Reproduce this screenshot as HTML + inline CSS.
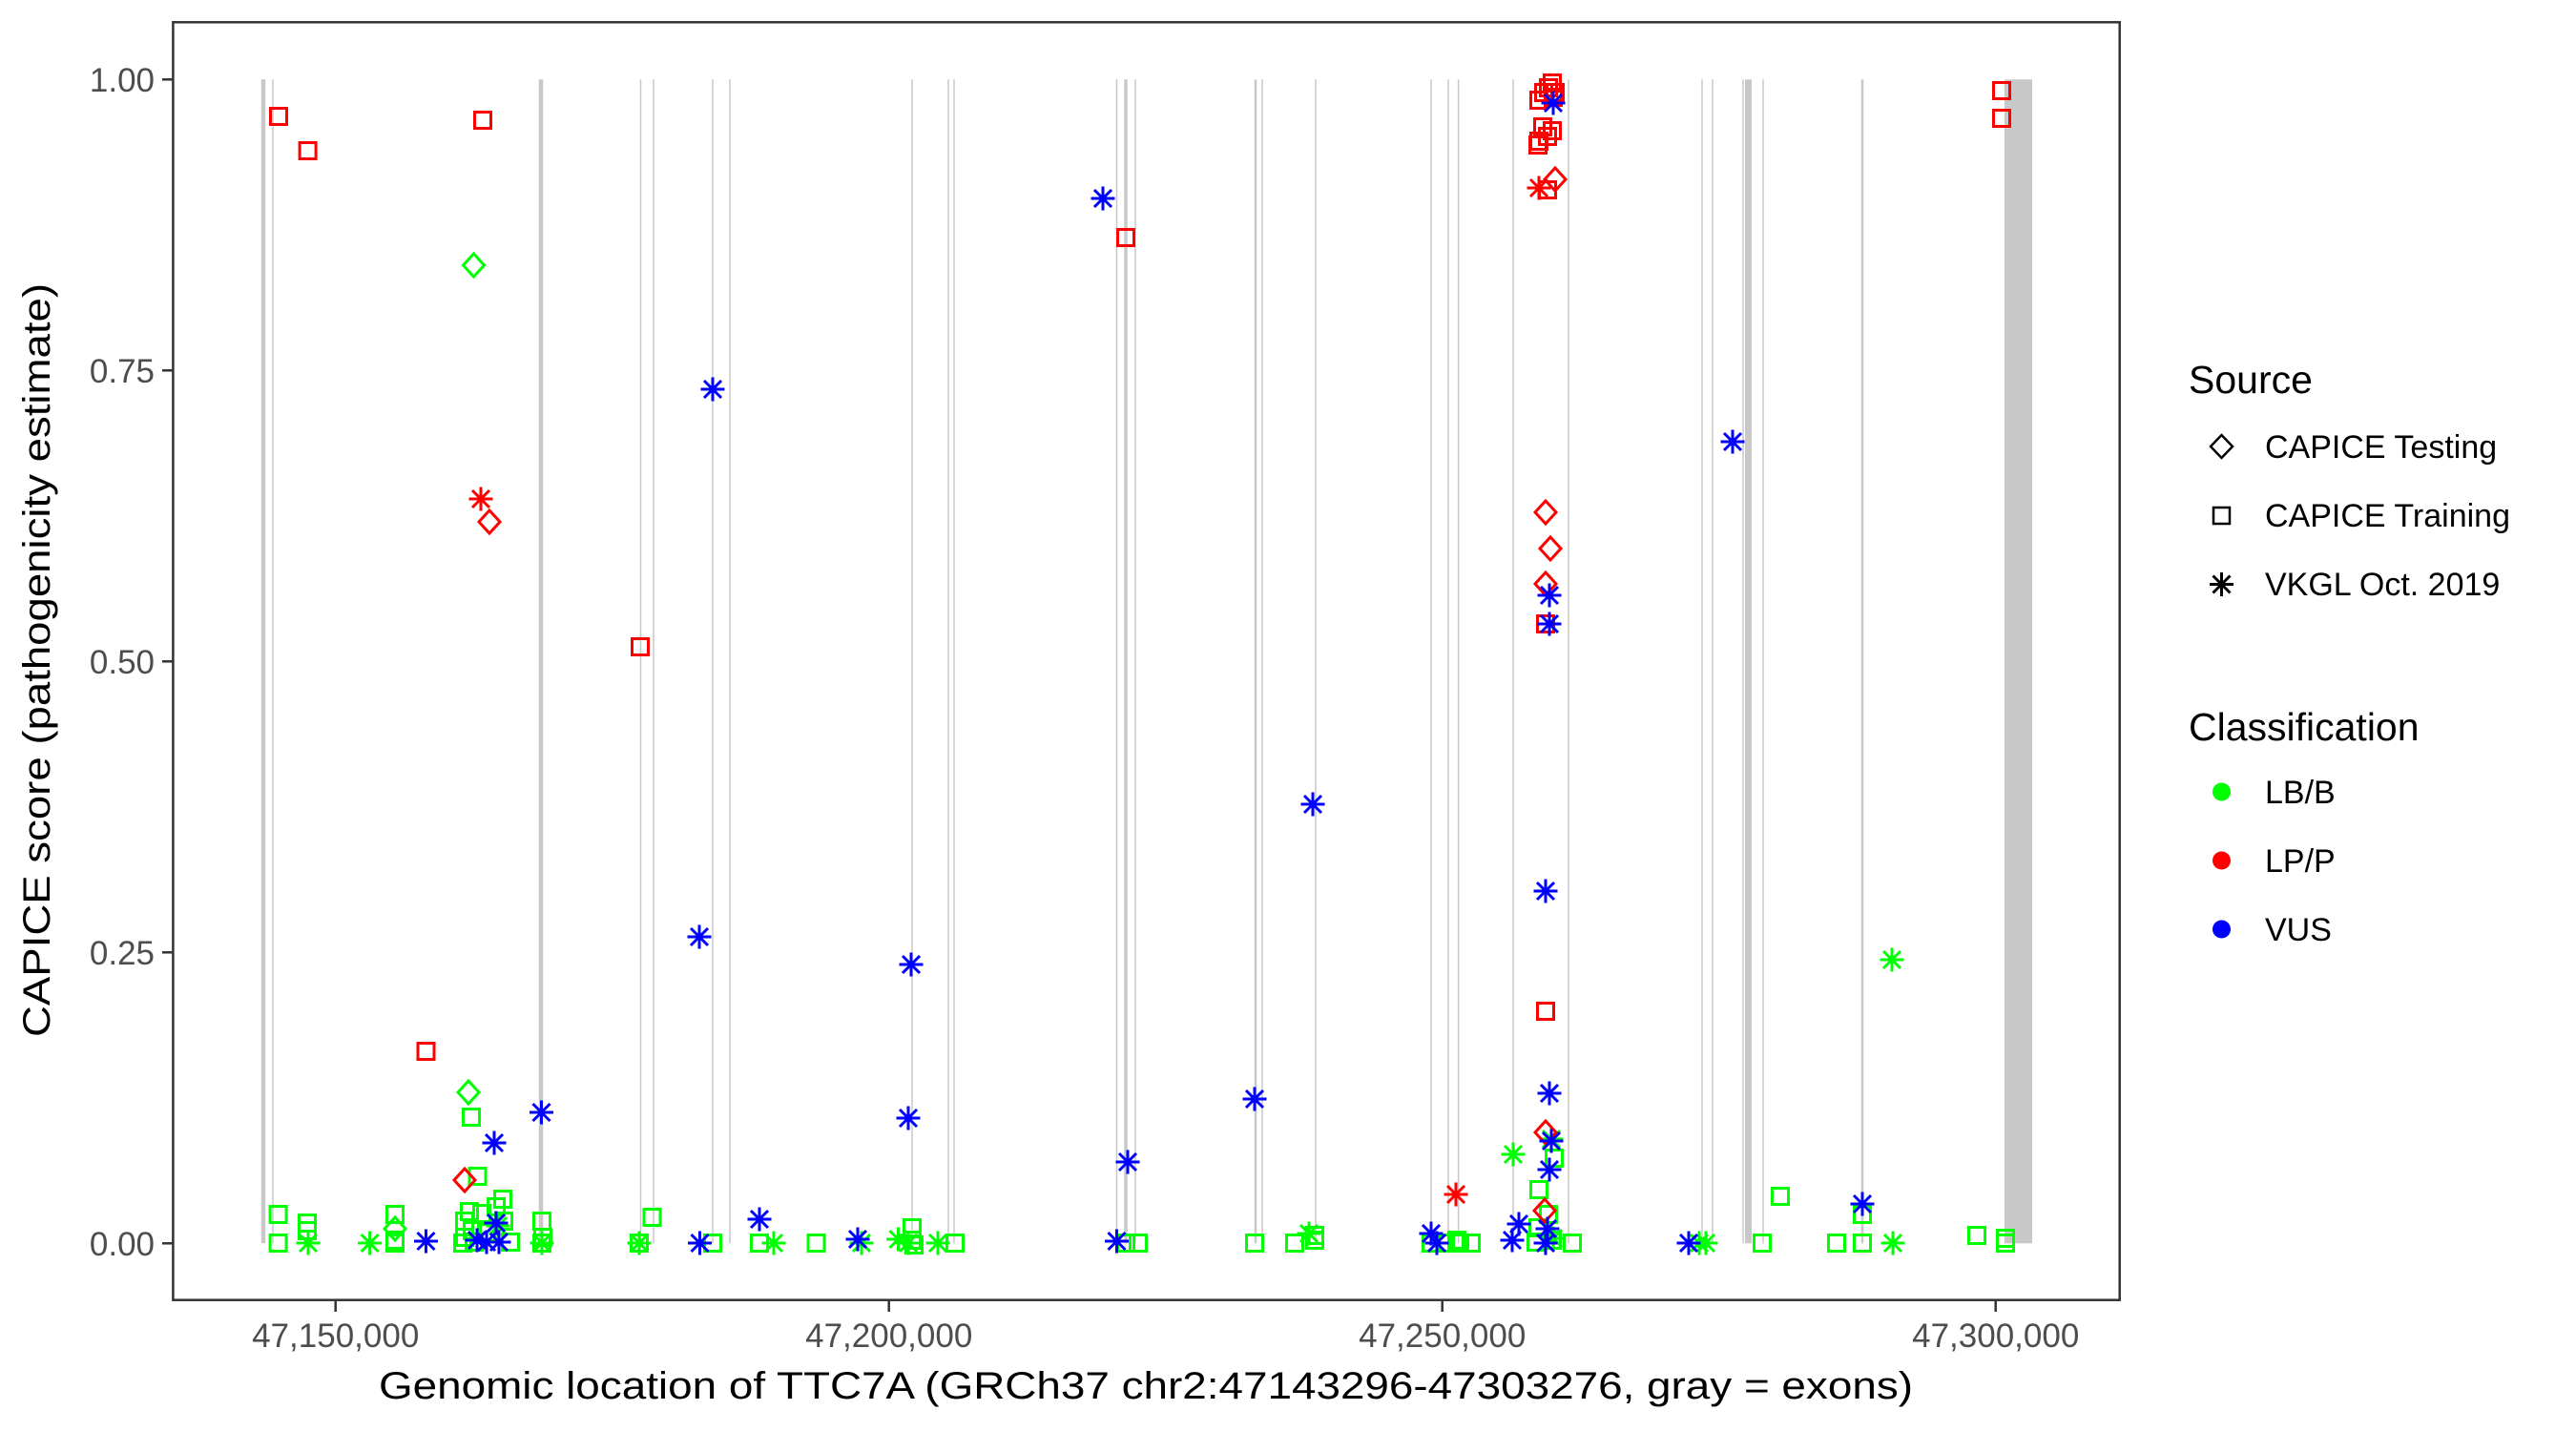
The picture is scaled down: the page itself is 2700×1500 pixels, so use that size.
<!DOCTYPE html>
<html><head><meta charset="utf-8"><style>
html,body{margin:0;padding:0;background:#fff}
svg{display:block}
text{font-family:"Liberation Sans",Arial,sans-serif}
</style></head><body>
<svg width="2700" height="1500" viewBox="0 0 2700 1500" xmlns="http://www.w3.org/2000/svg">
<defs>
<path id="S" d="M-8.5,-8.5h17v17h-17z" fill="none" stroke-width="3"/>
<path id="D" d="M0,-12L11,0L0,12L-11,0Z" fill="none" stroke-width="3"/>
<path id="A" d="M0,-12.5V12.5M-12.5,0H12.5M-9,-9L9,9M-9,9L9,-9" fill="none" stroke-width="3"/>
</defs>
<rect width="2700" height="1500" fill="#fff"/>
<g stroke="#c8c8c8" fill="none">
<line x1="276" y1="83.3" x2="276" y2="1303.3" stroke-width="4.5"/>
<line x1="286" y1="83.3" x2="286" y2="1303.3" stroke-width="1.5"/>
<line x1="567" y1="83.3" x2="567" y2="1303.3" stroke-width="4.5"/>
<line x1="671.5" y1="83.3" x2="671.5" y2="1303.3" stroke-width="1.5"/>
<line x1="685" y1="83.3" x2="685" y2="1303.3" stroke-width="1.5"/>
<line x1="747" y1="83.3" x2="747" y2="1303.3" stroke-width="1.5"/>
<line x1="765" y1="83.3" x2="765" y2="1303.3" stroke-width="1.5"/>
<line x1="956" y1="83.3" x2="956" y2="1303.3" stroke-width="1.5"/>
<line x1="994" y1="83.3" x2="994" y2="1303.3" stroke-width="1.5"/>
<line x1="1000" y1="83.3" x2="1000" y2="1303.3" stroke-width="1.5"/>
<line x1="1170.5" y1="83.3" x2="1170.5" y2="1303.3" stroke-width="1.5"/>
<line x1="1180" y1="83.3" x2="1180" y2="1303.3" stroke-width="3.5"/>
<line x1="1190" y1="83.3" x2="1190" y2="1303.3" stroke-width="1.5"/>
<line x1="1316" y1="83.3" x2="1316" y2="1303.3" stroke-width="2.5"/>
<line x1="1323" y1="83.3" x2="1323" y2="1303.3" stroke-width="1.5"/>
<line x1="1379" y1="83.3" x2="1379" y2="1303.3" stroke-width="1.5"/>
<line x1="1500" y1="83.3" x2="1500" y2="1303.3" stroke-width="1.5"/>
<line x1="1518" y1="83.3" x2="1518" y2="1303.3" stroke-width="1.5"/>
<line x1="1528.6" y1="83.3" x2="1528.6" y2="1303.3" stroke-width="1.5"/>
<line x1="1586" y1="83.3" x2="1586" y2="1303.3" stroke-width="1.5"/>
<line x1="1644" y1="83.3" x2="1644" y2="1303.3" stroke-width="1.5"/>
<line x1="1784" y1="83.3" x2="1784" y2="1303.3" stroke-width="1.5"/>
<line x1="1795" y1="83.3" x2="1795" y2="1303.3" stroke-width="1.5"/>
<line x1="1827" y1="83.3" x2="1827" y2="1303.3" stroke-width="1.5"/>
<line x1="1848" y1="83.3" x2="1848" y2="1303.3" stroke-width="1.5"/>
<line x1="1952" y1="83.3" x2="1952" y2="1303.3" stroke-width="2.5"/>
</g>
<rect x="1829" y="83.3" width="7" height="1220" fill="#c8c8c8"/>
<rect x="2101" y="83.3" width="29" height="1220" fill="#c8c8c8"/>
<g stroke="#00ff00">
<use href="#S" x="291.6" y="1303"/><use href="#S" x="414" y="1303"/><use href="#S" x="485" y="1303"/><use href="#S" x="487" y="1297"/><use href="#S" x="497" y="1302"/><use href="#S" x="535" y="1302"/><use href="#S" x="568" y="1303"/><use href="#S" x="569" y="1297"/><use href="#S" x="670" y="1303"/><use href="#S" x="747" y="1303"/><use href="#S" x="796" y="1303"/><use href="#S" x="855.5" y="1303"/><use href="#S" x="956" y="1300"/><use href="#S" x="958" y="1305"/><use href="#S" x="1001" y="1303"/><use href="#S" x="1180" y="1303"/><use href="#S" x="1193" y="1303"/><use href="#S" x="1315" y="1303"/><use href="#S" x="1357" y="1303"/><use href="#S" x="1378" y="1300"/><use href="#S" x="1500" y="1303"/><use href="#S" x="1515" y="1303"/><use href="#S" x="1530" y="1303"/><use href="#S" x="1542" y="1303"/><use href="#S" x="1527" y="1300"/><use href="#S" x="1610" y="1302"/><use href="#S" x="1627" y="1300"/><use href="#S" x="1648" y="1303"/><use href="#S" x="1847" y="1303"/><use href="#S" x="1925" y="1303"/><use href="#S" x="1952" y="1303"/><use href="#S" x="2102" y="1303"/><use href="#S" x="2102" y="1298"/>
<use href="#S" x="291.6" y="1273"/><use href="#S" x="322" y="1282"/><use href="#S" x="322" y="1290"/><use href="#S" x="414" y="1273"/><use href="#S" x="414" y="1300"/><use href="#S" x="494" y="1171"/><use href="#S" x="500.5" y="1233"/><use href="#S" x="527" y="1257"/><use href="#S" x="520" y="1265"/><use href="#S" x="492" y="1270"/><use href="#S" x="487" y="1280"/><use href="#S" x="505" y="1272"/><use href="#S" x="528" y="1280"/><use href="#S" x="568" y="1280"/><use href="#S" x="683.5" y="1276"/><use href="#S" x="956" y="1287"/><use href="#S" x="1629" y="1214"/><use href="#S" x="1613" y="1247"/><use href="#S" x="1623" y="1273"/><use href="#S" x="1612" y="1287"/><use href="#S" x="1866" y="1254"/><use href="#S" x="1952" y="1273"/><use href="#S" x="2072" y="1295"/><use href="#S" x="1378" y="1295"/><use href="#S" x="495" y="1290"/><use href="#S" x="510" y="1292"/>
<use href="#A" x="323" y="1303"/><use href="#A" x="387.6" y="1303"/><use href="#A" x="568" y="1303"/><use href="#A" x="670" y="1303"/><use href="#A" x="811" y="1303"/><use href="#A" x="903" y="1303"/><use href="#A" x="941.5" y="1299"/><use href="#A" x="952" y="1303"/><use href="#A" x="983" y="1303"/><use href="#A" x="1372" y="1293"/><use href="#A" x="1628" y="1298"/><use href="#A" x="1781" y="1303"/><use href="#A" x="1788" y="1303"/><use href="#A" x="1984" y="1303"/><use href="#A" x="1586" y="1210"/><use href="#A" x="1626" y="1194"/><use href="#A" x="1983" y="1006"/><use href="#A" x="522" y="1285"/>
<use href="#D" x="496.5" y="278"/><use href="#D" x="491" y="1145"/><use href="#D" x="414" y="1288"/>
</g>
<g stroke="#ff0000">
<use href="#S" x="292" y="122"/><use href="#S" x="322.6" y="158"/><use href="#S" x="506" y="126"/><use href="#S" x="446.5" y="1102"/><use href="#S" x="671" y="678"/><use href="#S" x="1180" y="249"/>
<use href="#S" x="1627" y="87"/><use href="#S" x="1623" y="92"/><use href="#S" x="1618" y="97"/><use href="#S" x="1613" y="105"/><use href="#S" x="1630" y="97"/><use href="#S" x="1628" y="102"/><use href="#S" x="1617" y="133"/><use href="#S" x="1627" y="137"/><use href="#S" x="1613" y="148"/><use href="#S" x="1612" y="152"/><use href="#S" x="1622" y="143"/>
<use href="#S" x="1622" y="199"/><use href="#S" x="1620" y="654"/><use href="#S" x="1620" y="1060"/><use href="#S" x="2098" y="95"/><use href="#S" x="2098" y="124"/>
<use href="#D" x="513" y="547"/><use href="#D" x="487" y="1237"/><use href="#D" x="1630" y="188"/><use href="#D" x="1620" y="537"/><use href="#D" x="1625" y="575"/><use href="#D" x="1620" y="612"/><use href="#D" x="1620" y="1187"/><use href="#D" x="1619" y="1269"/>
<use href="#A" x="504" y="523"/><use href="#A" x="1613" y="197"/><use href="#A" x="1526" y="1252"/>
</g>
<g stroke="#0000ff">
<use href="#A" x="747" y="408"/><use href="#A" x="733" y="982"/><use href="#A" x="1156" y="208"/><use href="#A" x="1816" y="463"/><use href="#A" x="1376" y="843"/><use href="#A" x="955" y="1011"/><use href="#A" x="952" y="1172"/><use href="#A" x="1628" y="108"/><use href="#A" x="1624" y="624"/><use href="#A" x="1624" y="654"/><use href="#A" x="1620" y="934"/><use href="#A" x="1624" y="1146"/><use href="#A" x="1626" y="1196"/><use href="#A" x="1624" y="1226"/><use href="#A" x="1315" y="1152"/><use href="#A" x="1182" y="1218"/><use href="#A" x="567.5" y="1166"/><use href="#A" x="518" y="1198"/><use href="#A" x="796" y="1278"/><use href="#A" x="1952" y="1262"/><use href="#A" x="446.5" y="1301"/><use href="#A" x="733.5" y="1303"/><use href="#A" x="899" y="1299"/><use href="#A" x="1170.5" y="1301"/><use href="#A" x="1500" y="1293"/><use href="#A" x="1506" y="1303"/><use href="#A" x="1592" y="1283"/><use href="#A" x="1585" y="1300"/><use href="#A" x="1622" y="1288"/><use href="#A" x="1620" y="1303"/><use href="#A" x="1770" y="1303"/><use href="#A" x="520" y="1282"/><use href="#A" x="500" y="1300"/><use href="#A" x="523" y="1302"/><use href="#A" x="510" y="1302"/>
</g>
<rect x="181.4" y="23.3" width="2040.3" height="1339.4" fill="none" stroke="#333" stroke-width="2.5"/>
<g stroke="#333" stroke-width="2.5">
<line x1="170" y1="83.3" x2="181.4" y2="83.3"/><line x1="170" y1="388.3" x2="181.4" y2="388.3"/><line x1="170" y1="693.3" x2="181.4" y2="693.3"/><line x1="170" y1="998.3" x2="181.4" y2="998.3"/><line x1="170" y1="1303.3" x2="181.4" y2="1303.3"/>
<line x1="351.7" y1="1362.7" x2="351.7" y2="1375"/><line x1="931.7" y1="1362.7" x2="931.7" y2="1375"/><line x1="1511.7" y1="1362.7" x2="1511.7" y2="1375"/><line x1="2091.7" y1="1362.7" x2="2091.7" y2="1375"/>
</g>
<g fill="#4d4d4d" font-size="35" text-anchor="end">
<text x="162" y="96">1.00</text><text x="162" y="401">0.75</text><text x="162" y="706">0.50</text><text x="162" y="1011">0.25</text><text x="162" y="1316">0.00</text>
</g>
<g fill="#4d4d4d" font-size="35" text-anchor="middle">
<text x="351.7" y="1412">47,150,000</text><text x="931.7" y="1412">47,200,000</text><text x="1511.7" y="1412">47,250,000</text><text x="2091.7" y="1412">47,300,000</text>
</g>
<text x="1201" y="1466" font-size="40" text-anchor="middle" fill="#000" textLength="1608" lengthAdjust="spacingAndGlyphs">Genomic location of TTC7A (GRCh37 chr2:47143296-47303276, gray = exons)</text>
<text transform="translate(52,692) rotate(-90)" font-size="40" text-anchor="middle" fill="#000" textLength="790" lengthAdjust="spacingAndGlyphs">CAPICE score (pathogenicity estimate)</text>
<text x="2294" y="412" font-size="41">Source</text>
<g stroke="#000" stroke-width="2.5" fill="none">
<path d="M2328.5,456L2340,468L2328.5,480L2317,468Z"/>
<rect x="2320" y="532" width="17" height="17"/>
<path d="M2328.5,600V625M2316,612.5H2341M2319.5,603.5L2337.5,621.5M2319.5,621.5L2337.5,603.5" stroke-width="3"/>
</g>
<g font-size="34" fill="#000">
<text x="2374" y="480">CAPICE Testing</text><text x="2374" y="552">CAPICE Training</text><text x="2374" y="624">VKGL Oct. 2019</text>
</g>
<text x="2294" y="776" font-size="41">Classification</text>
<circle cx="2328.5" cy="830" r="9.5" fill="#00ff00"/>
<circle cx="2328.5" cy="902" r="9.5" fill="#ff0000"/>
<circle cx="2328.5" cy="974" r="9.5" fill="#0000ff"/>
<g font-size="34" fill="#000">
<text x="2374" y="842">LB/B</text><text x="2374" y="914">LP/P</text><text x="2374" y="986">VUS</text>
</g>
</svg>
</body></html>
